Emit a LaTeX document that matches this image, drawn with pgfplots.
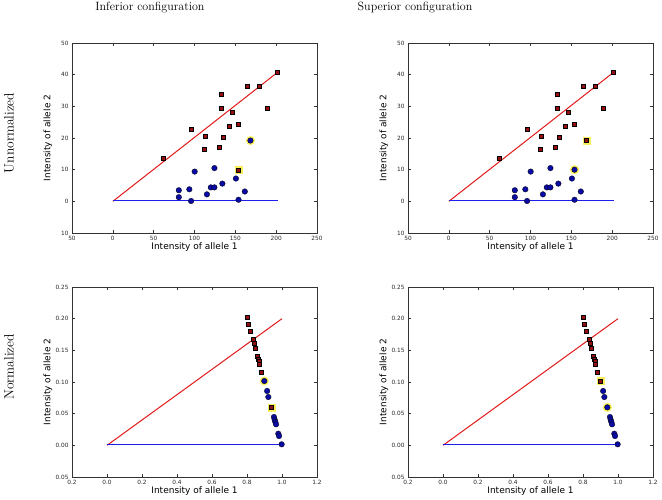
\documentclass[border=0pt]{standalone}
\usepackage{pgfplots}
\pgfplotsset{compat=1.18}
\usepackage{fontspec}
\newfontfamily\dejavu{DejaVu Sans}

\definecolor{sqred}{RGB}{150,15,15}
\definecolor{dotblue}{RGB}{10,10,165}
\definecolor{linered}{RGB}{225,25,25}
\definecolor{lineblue}{RGB}{30,30,235}
\definecolor{halo}{RGB}{250,240,90}

\pgfplotsset{
  allele/.style={
    scale only axis, width=245pt, height=190pt, anchor=south west,
    tick align=inside, tick pos=both, major tick length=3pt,
    axis line style={black!80, line width=0.6pt},
    tick style={black!80, line width=0.5pt},
    ticklabel style={font=\dejavu\fontsize{5.8}{6}\selectfont, text=black!85},
    label style={font=\dejavu\fontsize{9}{10}\selectfont},
    xlabel={Intensity of allele 1}, ylabel={Intensity of allele 2},
    xlabel style={at={([yshift=-14pt]axis description cs:0.5,0)}, anchor=center},
    ylabel style={at={([xshift=-24pt]axis description cs:0,0.5)}, anchor=center},
  },
  raw/.style={allele,
    xmin=-50, xmax=250, ymin=-10, ymax=50,
    xtick={-50,0,50,100,150,200,250}, xticklabels={50,0,50,100,150,200,250},
    ytick={-10,0,10,20,30,40,50}, yticklabels={10,0,10,20,30,40,50},
  },
  norm/.style={allele,
    xmin=-0.2, xmax=1.2, ymin=-0.05, ymax=0.25,
    xtick={-0.2,0,0.2,0.4,0.6,0.8,1.0,1.2}, xticklabels={0.2,0.0,0.2,0.4,0.6,0.8,1.0,1.2},
    ytick={-0.05,0,0.05,0.1,0.15,0.2,0.25}, yticklabels={0.05,0.00,0.05,0.10,0.15,0.20,0.25},
  },
  rline/.style={draw=linered, line width=1pt, mark=none},
  bline/.style={draw=lineblue, line width=1.3pt, mark=none},
  sqmark/.style={only marks, color=black, mark=square*, mark size=2pt, mark options={fill=sqred, line width=0.3pt}},
  dotmark/.style={only marks, color=black, mark=*, mark size=2.8pt, mark options={fill=dotblue, line width=0.3pt}},
  halodot/.style={only marks, color=halo, mark=*, mark size=4.3pt, mark options={fill=halo}},
  halosq/.style={only marks, color=halo, mark=square*, mark size=3.4pt, mark options={fill=halo}},
}

% unnormalized
\pgfplotstableread{
x y
61.0 13.6
96.2 22.8
113.1 20.6
111.9 16.6
132.5 33.9
132.5 29.4
130.1 17.1
134.5 20.3
145.9 28.2
143.0 23.6
153.9 24.4
164.8 36.4
179.0 36.4
188.7 29.4
201.2 40.8
}\rawred
\pgfplotstableread{
x y
80.8 3.5
80.8 1.3
93.7 3.8
95.8 0.1
100.2 9.4
115.2 2.2
120.0 4.4
124.4 4.4
124.4 10.5
134.1 5.6
150.7 7.2
153.9 0.5
161.6 3.1
}\rawblue
% normalized
\pgfplotstableread{
x y
0.799 0.2026
0.808 0.1916
0.820 0.1805
0.833 0.1679
0.839 0.1611
0.846 0.1537
0.858 0.1411
0.863 0.1363
0.867 0.1326
0.871 0.1289
0.882 0.1158
}\normred
\pgfplotstableread{
x y
0.915 0.0858
0.922 0.0763
0.954 0.0447
0.958 0.0405
0.962 0.0368
0.966 0.0332
0.979 0.0184
0.983 0.0147
0.998 0.0016
}\normblue

\begin{document}
\begin{tikzpicture}
\path[use as bounding box] (0,0) rectangle (662pt,499pt);

\node[anchor=base, font=\fontsize{12}{14}\selectfont] at (150pt,488pt) {Inferior configuration};
\node[anchor=base, font=\fontsize{12}{14}\selectfont] at (415pt,488pt) {Superior configuration};
\node[rotate=90, font=\fontsize{13.5}{15}\selectfont] at (9pt,366pt) {Unnormalized};
\node[rotate=90, font=\fontsize{13.5}{15}\selectfont] at (9pt,132pt) {Normalized};

% top left
\begin{axis}[raw, at={(72pt,266pt)}]
  \addplot[rline] coordinates {(0,0) (201.5,40.7)};
  \addplot[bline] coordinates {(0,0.2) (202,0.2)};
  \addplot[halodot] coordinates {(168.5,19.2)};
  \addplot[halosq] coordinates {(153.9,10.0)};
  \addplot[sqmark] table {\rawred};
  \addplot[sqmark] coordinates {(153.9,10.0)};
  \addplot[dotmark] table {\rawblue};
  \addplot[dotmark] coordinates {(168.5,19.2)};
\end{axis}

% top right
\begin{axis}[raw, at={(408pt,266pt)}]
  \addplot[rline] coordinates {(0,0) (201.5,40.7)};
  \addplot[bline] coordinates {(0,0.2) (202,0.2)};
  \addplot[halosq] coordinates {(168.5,19.2)};
  \addplot[halodot] coordinates {(153.9,10.0)};
  \addplot[sqmark] table {\rawred};
  \addplot[sqmark] coordinates {(168.5,19.2)};
  \addplot[dotmark] table {\rawblue};
  \addplot[dotmark] coordinates {(153.9,10.0)};
\end{axis}

% bottom left
\begin{axis}[norm, at={(72pt,22pt)}]
  \addplot[rline] coordinates {(0,0) (1.0,0.2)};
  \addplot[bline] coordinates {(0,0.001) (1.0,0.001)};
  \addplot[halodot] coordinates {(0.899,0.1016)};
  \addplot[halosq] coordinates {(0.939,0.060)};
  \addplot[sqmark] table {\normred};
  \addplot[sqmark] coordinates {(0.939,0.060)};
  \addplot[dotmark] table {\normblue};
  \addplot[dotmark] coordinates {(0.899,0.1016)};
\end{axis}

% bottom right
\begin{axis}[norm, at={(408pt,22pt)}]
  \addplot[rline] coordinates {(0,0) (1.0,0.2)};
  \addplot[bline] coordinates {(0,0.001) (1.0,0.001)};
  \addplot[halosq] coordinates {(0.899,0.1016)};
  \addplot[halodot] coordinates {(0.939,0.060)};
  \addplot[sqmark] table {\normred};
  \addplot[sqmark] coordinates {(0.899,0.1016)};
  \addplot[dotmark] table {\normblue};
  \addplot[dotmark] coordinates {(0.939,0.060)};
\end{axis}
\end{tikzpicture}
\end{document}
